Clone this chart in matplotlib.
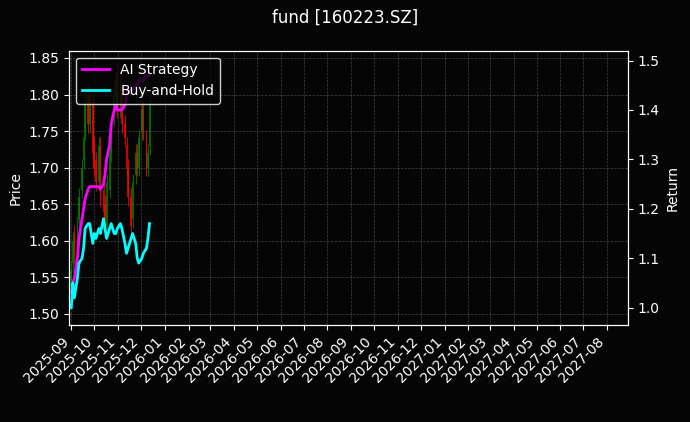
import matplotlib
matplotlib.use('Agg')
import matplotlib.pyplot as plt
import matplotlib.dates as mdates
import pandas as pd
import numpy as np

plt.style.use('dark_background')

dates = pd.bdate_range('2025-09-01', '2025-12-12')[::2]
opens = [1.53,1.57,1.61,1.58,1.63,1.67,1.71,1.75,1.80,1.76,1.79,1.73,1.71,1.68,1.73,1.67,1.65,1.62,1.67,1.72,1.77,1.80,1.83,1.78,1.81,1.76,1.73,1.70,1.66,1.63,1.69,1.72,1.70,1.75,1.78,1.74,1.70,1.73]
closes = [1.56,1.60,1.58,1.62,1.66,1.70,1.74,1.79,1.76,1.80,1.72,1.70,1.68,1.73,1.66,1.64,1.62,1.68,1.72,1.76,1.80,1.82,1.78,1.81,1.76,1.74,1.70,1.66,1.62,1.68,1.72,1.70,1.74,1.78,1.75,1.70,1.72,1.79]
strategy = [1.03,1.05,1.06,1.10,1.14,1.18,1.20,1.22,1.24,1.245,1.245,1.245,1.245,1.245,1.24,1.25,1.27,1.30,1.33,1.37,1.40,1.41,1.40,1.40,1.40,1.41,1.43,1.44,1.44,1.44,1.45,1.45,1.46,1.46,1.46,1.47,1.47,1.47]
buyhold = [1.00,1.05,1.02,1.06,1.09,1.10,1.12,1.16,1.17,1.17,1.13,1.15,1.14,1.16,1.15,1.18,1.16,1.14,1.16,1.17,1.15,1.15,1.16,1.17,1.16,1.13,1.11,1.12,1.14,1.15,1.13,1.10,1.09,1.10,1.11,1.12,1.14,1.17]

fig, ax = plt.subplots(figsize=(6.9, 4.22), dpi=100)
fig.patch.set_facecolor('#050505')
ax.set_facecolor('#050505')

for d, o, c in zip(dates, opens, closes):
    col = 'green' if c >= o else 'red'
    ax.vlines(d, min(o, c) - 0.012, max(o, c) + 0.012, color=col, linewidth=0.8, alpha=0.8)
    ax.bar(d, c - o, bottom=o, width=2.2, color=col, alpha=0.8)

ax.set_ylim(1.485, 1.86)
ax.set_xlim(pd.Timestamp('2025-08-29'), pd.Timestamp('2027-08-28'))
ax.set_ylabel('Price')
ax.xaxis.set_major_locator(mdates.MonthLocator())
ax.xaxis.set_major_formatter(mdates.DateFormatter('%Y-%m'))
plt.setp(ax.get_xticklabels(), rotation=45, ha='right')
ax.grid(True, linestyle='--', color='gray', alpha=0.5, linewidth=0.5)

ax2 = ax.twinx()
ax2.plot(dates, strategy, color='magenta', linewidth=2, label='AI Strategy')
ax2.plot(dates, buyhold, color='cyan', linewidth=2, label='Buy-and-Hold')
ax2.set_ylim(0.965, 1.52)
ax2.set_ylabel('Return')
ax2.legend(loc='upper left', facecolor='#050505', edgecolor='white')

fig.suptitle('fund [160223.SZ]')
fig.subplots_adjust(left=0.1, right=0.91, top=0.88, bottom=0.23)
fig.savefig('out.png')
